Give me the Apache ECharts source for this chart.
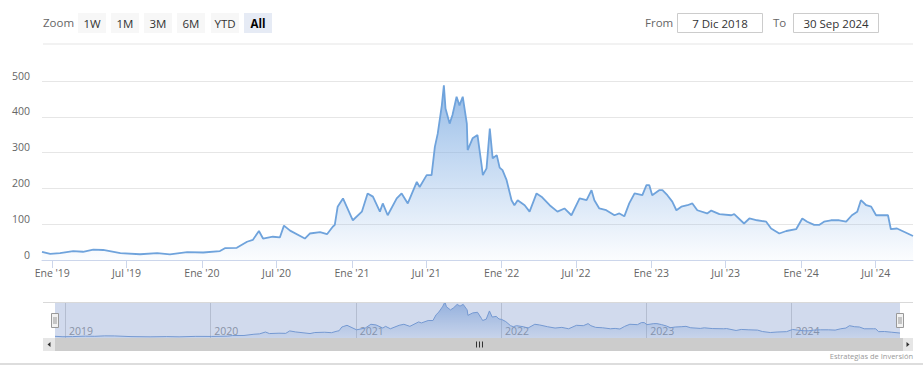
<!DOCTYPE html>
<html><head><meta charset="utf-8">
<script src="https://cdn.jsdelivr.net/npm/echarts@6/dist/echarts.min.js"></script>
<style>html,body{margin:0;padding:0;background:#fff}#c{width:923px;height:384px}</style>
</head><body><div id="c"></div>
<script>
const dates = ['2018-12-07','2018-12-27','2019-01-20','2019-02-21','2019-03-17','2019-04-11','2019-05-05','2019-06-16','2019-08-03','2019-09-14','2019-10-15','2019-11-26',
'2020-01-04','2020-02-14','2020-02-26','2020-03-26','2020-04-20','2020-05-04','2020-05-19','2020-05-29','2020-06-22','2020-07-09','2020-07-19','2020-08-03','2020-09-08','2020-09-20','2020-10-15','2020-11-01','2020-11-15','2020-11-20','2020-11-27','2020-12-02','2020-12-10',
'2021-01-03','2021-01-25','2021-02-08','2021-02-21','2021-03-10','2021-03-17','2021-03-29','2021-04-20','2021-05-02','2021-05-17','2021-06-08','2021-06-15','2021-07-02','2021-07-14','2021-07-22','2021-07-29','2021-08-08','2021-08-13','2021-08-17','2021-08-27','2021-09-03','2021-09-13','2021-09-20','2021-09-28','2021-10-08','2021-10-10','2021-10-22','2021-11-03','2021-11-13','2021-11-16','2021-11-25','2021-12-03','2021-12-10','2021-12-20','2021-12-27',
'2022-01-03','2022-01-13','2022-01-25','2022-02-01','2022-02-09','2022-02-26','2022-03-10','2022-03-27','2022-04-08','2022-04-28','2022-05-17','2022-06-03','2022-06-20','2022-07-10','2022-07-27','2022-08-08','2022-08-15','2022-08-27','2022-09-13','2022-10-03','2022-10-15','2022-10-27','2022-11-08','2022-11-21','2022-12-10','2022-12-20','2022-12-27',
'2023-01-03','2023-01-20','2023-01-28','2023-02-09','2023-02-21','2023-03-03','2023-03-15','2023-03-30','2023-04-11','2023-04-23','2023-05-17','2023-05-27','2023-06-16','2023-07-15','2023-07-22','2023-08-15','2023-08-28','2023-09-16','2023-10-08','2023-10-20','2023-11-09','2023-11-26','2023-12-20',
'2024-01-04','2024-01-16','2024-02-02','2024-02-14','2024-02-26','2024-03-14','2024-04-03','2024-04-20','2024-05-04','2024-05-17','2024-05-26','2024-06-08','2024-06-20','2024-07-02','2024-07-26','2024-07-31','2024-08-07','2024-08-22','2024-09-08','2024-09-30'];
const values = [23,17,19,25,23,29,28,19,16,19,16,22,
21,25,33,34,51,56,81,60,65,63,96,82,60,74,78,72,93,98,149,158,172,
111,135,186,177,135,158,125,172,186,158,218,204,237,237,316,353,432,488,423,381,405,456,432,456,381,307,340,349,265,237,256,367,284,293,258,
251,223,167,153,167,153,135,186,177,153,135,144,125,172,167,195,167,144,139,125,130,122,158,186,181,209,209,
181,195,195,181,163,139,149,153,158,139,130,138,128,125,128,102,116,111,107,88,74,81,86,
116,107,98,98,107,111,111,107,125,135,167,153,149,125,125,125,86,88,79,67];
const rangeStart = '2018-12-07';
const rangeEnd = '2024-09-30';
const yTicks = [0,100,200,300,400,500];
const xTickDates = ['2019-01-01','2019-07-01','2020-01-01','2020-07-01','2021-01-01','2021-07-01','2022-01-01','2022-07-01','2023-01-01','2023-07-01','2024-01-01','2024-07-01'];
const navYearDates = ['2019-01-01','2020-01-01','2021-01-01','2022-01-01','2023-01-01','2024-01-01'];
const monthNames = {0:'Ene', 6:'Jul'};
const zoomButtons = ['1W','1M','3M','6M','YTD','All'];
const fromText = '7 Dic 2018', toText = '30 Sep 2024';
const creditText = 'Estrategias de Inversión';

function ts(s){const p=s.split('-').map(Number);return Date.UTC(p[0],p[1]-1,p[2]);}
const seriesData = dates.map((d,i)=>[ts(d), values[i]]);
const tMin = ts(rangeStart), tMax = ts(rangeEnd);
const FONT = 'Open Sans';

const chart = echarts.init(document.getElementById('c'), null, {renderer:'svg'});
const option = {
  animation:false,
  backgroundColor:'#ffffff',
  textStyle:{fontFamily:FONT},
  grid:[
    {left:42, right:10, top:81, height:179, outerBoundsMode:'none', containLabel:false},
    {left:55, right:23, top:302, height:36, outerBoundsMode:'none', containLabel:false}
  ],
  xAxis:[
    {type:'value', gridIndex:0, min:tMin, max:tMax, scale:true,
     axisLine:{show:true, lineStyle:{color:'#ccd6eb', width:1}},
     axisTick:{show:true, customValues:xTickDates.map(ts), length:8, lineStyle:{color:'#ccd6eb'}},
     axisLabel:{customValues:xTickDates.map(ts), color:'#666', fontSize:10.5, fontFamily:FONT, margin:7, hideOverlap:false,
       formatter:v=>{const d=new Date(v);return monthNames[d.getUTCMonth()]+" '"+String(d.getUTCFullYear()).slice(2);}},
     splitLine:{show:false}},
    {type:'value', gridIndex:1, min:tMin, max:tMax, scale:true,
     axisLine:{show:false},
     axisTick:{show:false, customValues:navYearDates.map(ts)},
     axisLabel:{customValues:navYearDates.map(ts), inside:true, align:'left', verticalAlign:'bottom', margin:2, padding:[0,0,0,4],
       color:'#999', fontSize:10.5, fontFamily:FONT, hideOverlap:false,
       formatter:v=>String(new Date(v).getUTCFullYear())},
     splitLine:{show:true, lineStyle:{color:'#d6d6d6', width:1}}}
  ],
  yAxis:[
    {type:'value', gridIndex:0, min:0, max:500, interval:100,
     axisLine:{show:false}, axisTick:{show:false},
     axisLabel:{color:'#666', fontSize:10.5, fontFamily:FONT, margin:12, verticalAlign:'bottom', showMinLabel:true, showMaxLabel:true},
     splitLine:{show:true, lineStyle:{color:'#e6e6e6', width:1}}},
    {type:'value', gridIndex:1, min:0, max:'dataMax', show:false, splitLine:{show:false}}
  ],
  series:[
    {type:'line', xAxisIndex:0, yAxisIndex:0, data:seriesData, showSymbol:false, symbol:'none',
     lineStyle:{color:'#6fa3dc', width:1.8},
     areaStyle:{color:new echarts.graphic.LinearGradient(0,0,0,1,[{offset:0,color:'rgba(104,158,220,1)'},{offset:0.5,color:'rgba(130,175,228,0.6)'},{offset:1,color:'rgba(130,175,228,0.04)'}])},
     z:3},
    {type:'line', xAxisIndex:1, yAxisIndex:1, data:seriesData, showSymbol:false, symbol:'none',
     lineStyle:{color:'#7ba2d8', width:1},
     areaStyle:{color:new echarts.graphic.LinearGradient(0,0,0,1,[{offset:0,color:'rgba(100,150,215,0.8)'},{offset:1,color:'rgba(100,150,215,0.12)'}])},
     z:3}
  ]
};
chart.setOption(option);

const nx0 = chart.convertToPixel({xAxisIndex:1}, tMin);
const nx1 = chart.convertToPixel({xAxisIndex:1}, tMax);
const g = [];
g.push({type:'text', x:43, y:22, style:{text:'Zoom', fill:'#666', fontSize:11.5, fontFamily:FONT, verticalAlign:'middle'}});
const btnX = [78,111,144,177,211,244];
zoomButtons.forEach((b,i)=>{
  const sel = b==='All';
  g.push({type:'rect', shape:{x:btnX[i], y:13, width:28, height:20}, style:{fill: sel?'#e6ebf5':'#f7f7f7'}});
  g.push({type:'text', x:btnX[i]+14, y:23, style:{text:b, fill:sel?'#000':'#333', fontSize:11.5, fontWeight:sel?'bold':'normal', fontFamily:FONT, align:'center', verticalAlign:'middle'}});
});
g.push({type:'text', x:645, y:22, style:{text:'From', fill:'#666', fontSize:11.5, fontFamily:FONT, verticalAlign:'middle'}});
g.push({type:'rect', shape:{x:677.5, y:13.5, width:85, height:19}, style:{fill:'#fff', stroke:'#cccccc', lineWidth:1}});
g.push({type:'text', x:720, y:23, style:{text:fromText, fill:'#333', fontSize:11.5, fontFamily:FONT, align:'center', verticalAlign:'middle'}});
g.push({type:'text', x:773, y:22, style:{text:'To', fill:'#666', fontSize:11.5, fontFamily:FONT, verticalAlign:'middle'}});
g.push({type:'rect', shape:{x:793.5, y:13.5, width:85, height:19}, style:{fill:'#fff', stroke:'#cccccc', lineWidth:1}});
g.push({type:'text', x:836, y:23, style:{text:toText, fill:'#333', fontSize:11.5, fontFamily:FONT, align:'center', verticalAlign:'middle'}});
g.push({type:'rect', shape:{x:43, y:43, width:870, height:2}, style:{fill:'#f2f2f2'}});
g.push({type:'rect', z:50, shape:{x:nx0, y:302, width:nx1-nx0, height:36}, style:{fill:'rgba(102,133,194,0.3)'}});
g.push({type:'line', z:51, shape:{x1:43, y1:302.5, x2:913, y2:302.5}, style:{stroke:'#d9d9d9', lineWidth:1}});
g.push({type:'rect', z:50, shape:{x:43, y:338, width:870, height:13}, style:{fill:'#f2f2f2'}});
g.push({type:'rect', z:51, shape:{x:55, y:338, width:848, height:13}, style:{fill:'#cccccc'}});
g.push({type:'rect', z:51, shape:{x:43, y:338, width:12, height:13}, style:{fill:'#e6e6e6'}});
g.push({type:'rect', z:51, shape:{x:903, y:338, width:10, height:13}, style:{fill:'#e6e6e6'}});
g.push({type:'polygon', z:52, shape:{points:[[47.5,344.5],[50.5,342],[50.5,347]]}, style:{fill:'#333'}});
g.push({type:'polygon', z:52, shape:{points:[[909.5,344.5],[906.5,342],[906.5,347]]}, style:{fill:'#333'}});
const rx = (55+903)/2;
[-3,0,3].forEach(o=>g.push({type:'line', z:52, shape:{x1:rx+o+0.5, y1:341.5, x2:rx+o+0.5, y2:347.5}, style:{stroke:'#333', lineWidth:1}}));
[nx0, nx1].forEach(hx=>{
  const x = Math.round(hx)-3.5;
  g.push({type:'rect', z:53, shape:{x:x, y:313.5, width:7, height:14}, style:{fill:'#f2f2f2', stroke:'#999', lineWidth:1}});
  g.push({type:'line', z:54, shape:{x1:x+2.5, y1:317, x2:x+2.5, y2:324}, style:{stroke:'#999', lineWidth:1}});
  g.push({type:'line', z:54, shape:{x1:x+4.5, y1:317, x2:x+4.5, y2:324}, style:{stroke:'#999', lineWidth:1}});
});
g.push({type:'text', z:55, x:913, y:356, style:{text:creditText, fill:'#999', fontSize:7.5, fontFamily:FONT, align:'right', verticalAlign:'middle'}});
g.push({type:'rect', shape:{x:0, y:363, width:923, height:2}, style:{fill:'#dddddd'}});
chart.setOption({graphic:g});
</script>
</body></html>
